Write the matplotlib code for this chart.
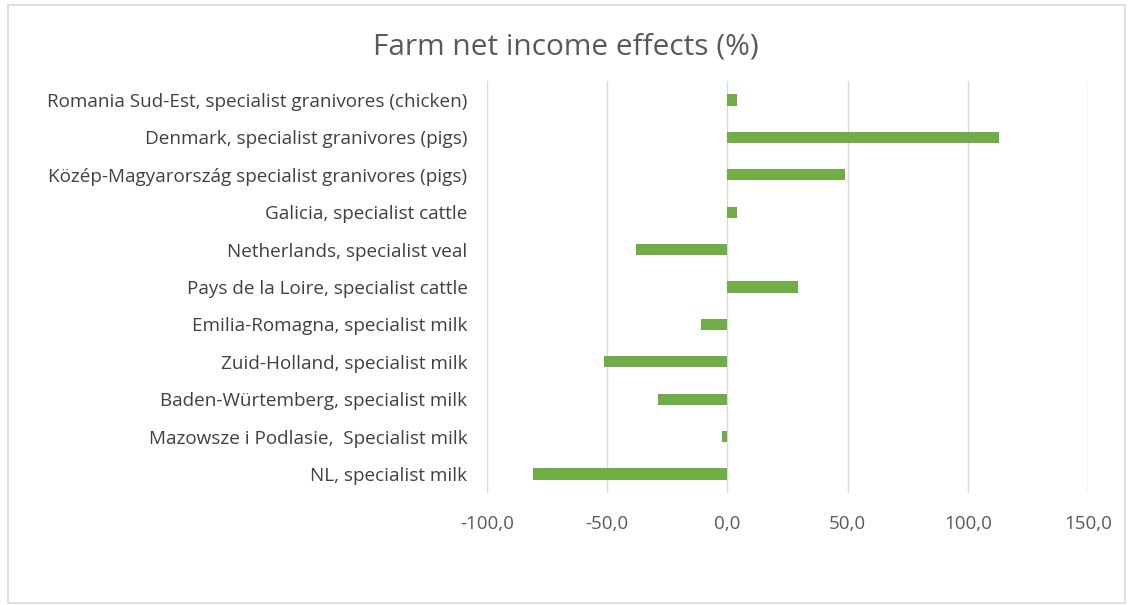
import matplotlib

matplotlib.use("Agg")
import matplotlib.pyplot as plt
from matplotlib.patches import Rectangle

# farm types, top to bottom as listed on the chart
FARMS = [
    "Romania Sud-Est, specialist granivores (chicken)",
    "Denmark, specialist granivores (pigs)",
    "Közép-Magyarország specialist granivores (pigs)",
    "Galicia, specialist cattle",
    "Netherlands, specialist veal",
    "Pays de la Loire, specialist cattle",
    "Emilia-Romagna, specialist milk",
    "Zuid-Holland, specialist milk",
    "Baden-Würtemberg, specialist milk",
    "Mazowsze i Podlasie,  Specialist milk",
    "NL, specialist milk",
]
INCOME_EFFECT = [4.0, 112.8, 48.8, 4.0, -37.8, 29.3, -11.1, -51.2, -28.8, -2.2, -80.9]
XTICKS = [-100, -50, 0, 50, 100, 150]

GREEN = "#70AD47"
GRID = "#D9D9D9"
TEXT = "#595959"

plt.rcParams["font.family"] = ["Open Sans", "DejaVu Sans"]

fig = plt.figure(figsize=(11.28, 6.05), dpi=100)
ax = fig.add_axes([0.4317, 0.1856, 0.5328, 0.68])

ypos = list(range(len(FARMS)))
ax.barh(ypos, INCOME_EFFECT, height=0.3, color=GREEN, zorder=3)
ax.set_ylim(len(FARMS) - 0.5, -0.5)
ax.set_xlim(XTICKS[0], XTICKS[-1])

ax.set_yticks(ypos)
ax.set_yticklabels(FARMS, fontsize=13.6, color="#404040")
ax.set_xticks(XTICKS)
ax.set_xticklabels([f"{v:.1f}".replace(".", ",") for v in XTICKS], fontsize=13.5, color=TEXT)
ax.tick_params(axis="y", length=0, pad=14)
ax.tick_params(axis="x", length=0, pad=16)
ax.grid(axis="x", color=GRID, linewidth=1, zorder=0)
for sp in ax.spines.values():
    sp.set_visible(False)

fig.text(0.502, 0.922, "Farm net income effects (%)", ha="center", va="center",
         fontsize=21.5, color=TEXT)

# light chart-area frame
fig.patches.append(Rectangle((0.007, 0.004), 0.99, 0.988, transform=fig.transFigure,
                             fill=False, edgecolor="#D9D9D9", linewidth=1.2))

fig.savefig("out.png", dpi=100)
